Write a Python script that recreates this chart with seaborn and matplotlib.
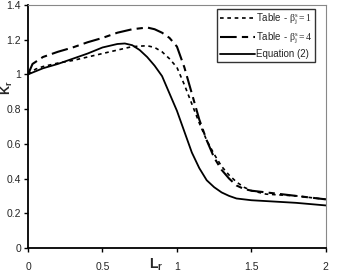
import numpy as np
import pandas as pd
import seaborn as sns
from matplotlib import pyplot as plt

# values
x_b1 = [0, 0.05, 0.1, 0.2, 0.3, 0.4, 0.5, 0.6, 0.7, 0.8, 0.85, 0.9, 0.95, 1.0, 1.05, 1.1, 1.15,
        1.2, 1.25, 1.3, 1.35, 1.4, 1.45, 1.5, 1.6, 1.8, 2.0]
y_b1 = [1.0, 1.03, 1.045, 1.065, 1.08, 1.10, 1.12, 1.14, 1.16, 1.165, 1.155, 1.13, 1.09, 1.04, 0.94, 0.83, 0.72,
        0.62, 0.54, 0.47, 0.42, 0.38, 0.35, 0.33, 0.31, 0.30, 0.28]

x_b4 = [0, 0.03, 0.1, 0.2, 0.3, 0.4, 0.5, 0.6, 0.7, 0.8, 0.85, 0.9, 0.95, 1.0, 1.05, 1.1, 1.15,
        1.2, 1.25, 1.3, 1.35, 1.4, 1.45, 1.5, 1.6, 1.8, 2.0]
y_b4 = [1.0, 1.06, 1.10, 1.13, 1.155, 1.185, 1.21, 1.24, 1.26, 1.27, 1.26, 1.24, 1.21, 1.16, 1.04, 0.89, 0.74,
        0.62, 0.52, 0.45, 0.40, 0.36, 0.34, 0.33, 0.32, 0.30, 0.28]

x_eq = [0, 0.1, 0.2, 0.3, 0.4, 0.5, 0.6, 0.65, 0.7, 0.75, 0.8, 0.85, 0.9, 0.95, 1.0, 1.05, 1.1,
        1.15, 1.2, 1.25, 1.3, 1.35, 1.4, 1.5, 1.6, 1.8, 2.0]
y_eq = [1.0, 1.035, 1.06, 1.09, 1.12, 1.155, 1.175, 1.178, 1.168, 1.14, 1.10, 1.05, 0.99, 0.89, 0.79, 0.67, 0.55,
        0.46, 0.39, 0.35, 0.32, 0.30, 0.285, 0.275, 0.27, 0.26, 0.245]

x_ticks = [0, 0.5, 1, 1.5, 2]
x_ticklabels = ["0", "0.5", "1", "1.5", "2"]
y_ticks = [0, 0.2, 0.4, 0.6, 0.8, 1.0, 1.2, 1.4]
y_ticklabels = ["0", "0.2", "0.4", "0.6", "0.8", "1", "1.2", "1.4"]

lab_b1 = r"Table - $\mathrm{\beta}_{\mathrm{j}}^{\mathrm{s}}=1$"
lab_b4 = r"Table - $\mathrm{\beta}_{\mathrm{j}}^{\mathrm{s}}=4$"
lab_eq = "Equation (2)"

sns.set_style("white")
plt.rcParams['font.family'] = ['Liberation Sans', 'DejaVu Sans']
plt.rcParams['mathtext.fontset'] = 'custom'
plt.rcParams['mathtext.rm'] = 'Liberation Serif'
plt.rcParams['mathtext.it'] = 'Liberation Serif:italic'
plt.rcParams['mathtext.bf'] = 'Liberation Sans:bold'

fig = plt.figure(figsize=(3.38, 2.74), dpi=100)
ax = fig.add_axes([0.083, 0.095, 0.881, 0.887])

df_b1 = pd.DataFrame({"x": x_b1, "y": y_b1})
df_b4 = pd.DataFrame({"x": x_b4, "y": y_b4})
df_eq = pd.DataFrame({"x": x_eq, "y": y_eq})

sns.lineplot(data=df_b1, x="x", y="y", ax=ax, color="black", linewidth=1.2,
             label=lab_b1)
sns.lineplot(data=df_b4, x="x", y="y", ax=ax, color="black", linewidth=1.5,
             label=lab_b4)
sns.lineplot(data=df_eq, x="x", y="y", ax=ax, color="black", linewidth=1.3,
             label=lab_eq)
ax.lines[0].set_dashes([2.2, 2.2])
ax.lines[1].set_dashes([8, 2.5, 3, 2.5])

ax.set_xlim(0, 2)
ax.set_ylim(0, 1.4)
ax.set_xticks(x_ticks)
ax.set_xticklabels(x_ticklabels)
ax.set_yticks(y_ticks)
ax.set_yticklabels(y_ticklabels)
ax.tick_params(axis="both", direction="out", length=3, width=1, labelsize=7.5,
               color="black", bottom=True, left=True)
ax.tick_params(axis="x", pad=7)
ax.tick_params(axis="y", pad=2)

for s in ["left", "bottom"]:
    ax.spines[s].set_color("black")
    ax.spines[s].set_linewidth(1.3)
for s in ["top", "right"]:
    ax.spines[s].set_color("#888888")
    ax.spines[s].set_linewidth(0.8)

ax.set_xlabel(r"$\mathbf{L_r}$", fontsize=10)
ax.xaxis.set_label_coords(0.43, -0.035)
ax.set_ylabel(r"$\mathbf{K_r}$", fontsize=9)
ax.yaxis.set_label_coords(-0.045, 0.66)

leg = ax.legend(loc="upper right", bbox_to_anchor=(0.963, 0.982), fontsize=7,
                frameon=True, fancybox=False, handlelength=3.6, handletextpad=0.1,
                borderpad=0.3, labelspacing=0.35, borderaxespad=0)
leg.get_frame().set_edgecolor("black")
leg.get_frame().set_linewidth(1.0)

fig.savefig("out.png", dpi=100)
